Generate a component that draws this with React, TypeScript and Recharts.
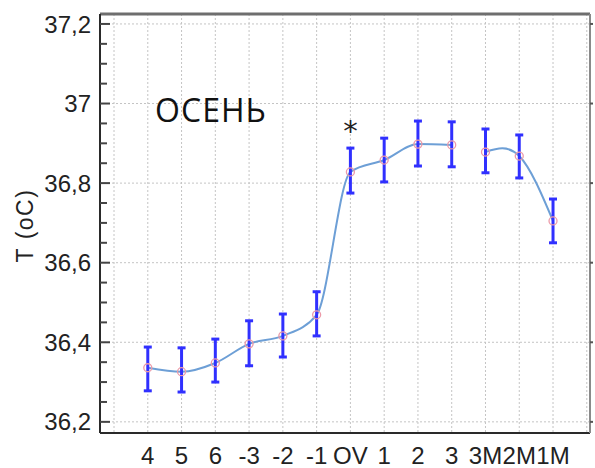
import { ComposedChart, Line, XAxis, YAxis, CartesianGrid, ErrorBar, ReferenceLine, ReferenceDot } from 'recharts';

// stages on the x axis, in the order of the figure
const stages = ['4', '5', '6', '-3', '-2', '-1', 'OV', '1', '2', '3', '3M', '2M', '1M'];
// mean body temperature and the ends of the error bars
const meanT = [36.336, 36.326, 36.348, 36.396, 36.416, 36.469, 36.828, 36.858, 36.898, 36.896, 36.878, 36.868, 36.705];
const upperT = [36.388, 36.386, 36.408, 36.454, 36.471, 36.527, 36.888, 36.913, 36.956, 36.954, 36.936, 36.921, 36.76];
const lowerT = [36.278, 36.275, 36.3, 36.341, 36.363, 36.416, 36.775, 36.803, 36.843, 36.841, 36.826, 36.813, 36.65];
// the fitted curve is broken between "3" and "3M"
const lastOfFirstCurve = 9;

const xTicks = [1, 2, 3, 4, 5, 6, 7, 8, 9, 10, 11, 12, 13];
const xGrid = [0, 1, 2, 3, 4, 5, 6, 7, 8, 9, 10, 11, 12, 13, 14];
const yMajor = [36.2, 36.4, 36.6, 36.8, 37, 37.2];
const yTicks = [
  36.2, 36.25, 36.3, 36.35, 36.4, 36.45, 36.5, 36.55, 36.6, 36.65, 36.7,
  36.75, 36.8, 36.85, 36.9, 36.95, 37, 37.05, 37.1, 37.15, 37.2,
];

const X_DOMAIN: [number, number] = [-0.415, 14.095];
const Y_DOMAIN: [number, number] = [36.172, 37.225];

const data = stages.map((s, i) => ({
  x: i + 1,
  t: meanT[i],
  err: [meanT[i] - lowerT[i], upperT[i] - meanT[i]],
  curveA: i <= lastOfFirstCurve ? meanT[i] : null,
  curveB: i > lastOfFirstCurve ? meanT[i] : null,
}));

const FONT = '"Liberation Sans", Arial, sans-serif';

const isMajor = (v: number) => yMajor.some((m) => Math.abs(m - v) < 1e-6);

const LeftTick = (props: any) => {
  const { x, y, payload } = props;
  const major = isMajor(payload.value);
  return (
    <g>
      <line x1={x} y1={y} x2={x + (major ? 10 : 7)} y2={y} stroke="#444" strokeWidth={2} />
      {major && (
        <text x={x - 9} y={y} dy="0.36em" textAnchor="end" fontSize={24} fontFamily={FONT} fill="#222">
          {String(payload.value).replace('.', ',')}
        </text>
      )}
    </g>
  );
};

const RightTick = (props: any) => {
  const { x, y } = props;
  return <line x1={x} y1={y} x2={x + 3} y2={y} stroke="#555" strokeWidth={2} />;
};

const BottomTick = (props: any) => {
  const { x, y, payload } = props;
  return (
    <text x={x} y={y + 31} textAnchor="middle" fontSize={24} fontFamily={FONT} fill="#222">
      {stages[payload.value - 1]}
    </text>
  );
};

const Marker = (props: any) => {
  const { cx, cy } = props;
  return <circle cx={cx} cy={cy} r={4} fill="none" stroke="#ec9aa8" strokeWidth={1.3} />;
};

const YTitle = (props: any) => {
  const { viewBox } = props;
  const cx = viewBox.x + 25;
  const cy = viewBox.y + viewBox.height / 2 + 2;
  return (
    <text x={cx} y={cy} dy="0.36em" textAnchor="middle" fontSize={23} letterSpacing={1.5} fontFamily={FONT} fill="#222" transform={`rotate(-90, ${cx}, ${cy})`}>
      T (oC)
    </text>
  );
};

export default function App() {
  return (
    <div style={{ position: 'absolute', left: 0, top: 0, background: '#fff' }}>
      <ComposedChart width={595} height={468} data={data} margin={{ top: 14, right: 0, bottom: 0, left: 0 }}>
        <CartesianGrid stroke="#c4c4c4" strokeDasharray="2 2" horizontalValues={yMajor} verticalValues={xGrid} />
        <XAxis
          type="number"
          dataKey="x"
          domain={X_DOMAIN}
          allowDataOverflow
          ticks={xTicks}
          interval={0}
          height={35}
          tickSize={0}
          tickMargin={0}
          tickLine={false}
          axisLine={{ stroke: '#2a2a2a', strokeWidth: 2 }}
          tick={<BottomTick />}
        />
        <YAxis
          type="number"
          domain={Y_DOMAIN}
          allowDataOverflow
          ticks={yTicks}
          interval={0}
          width={100}
          tickSize={0}
          tickMargin={0}
          tickLine={false}
          axisLine={{ stroke: '#2a2a2a', strokeWidth: 2 }}
          tick={<LeftTick />}
          label={<YTitle />}
        />
        <YAxis
          yAxisId="right"
          orientation="right"
          type="number"
          domain={Y_DOMAIN}
          allowDataOverflow
          ticks={yMajor}
          interval={0}
          width={5}
          tickSize={0}
          tickMargin={0}
          tickLine={false}
          axisLine={{ stroke: '#8a8a8a', strokeWidth: 2 }}
          tick={<RightTick />}
        />
        <ReferenceLine y={Y_DOMAIN[1]} stroke="#6e6e6e" strokeWidth={3} />
        <Line dataKey="curveA" type="monotone" stroke="#6d9fd6" strokeWidth={2} dot={false} isAnimationActive={false} />
        <Line dataKey="curveB" type="natural" stroke="#6d9fd6" strokeWidth={2} dot={false} isAnimationActive={false} />
        <Line dataKey="t" stroke="none" dot={<Marker />} activeDot={false} isAnimationActive={false} />
        <Line dataKey="t" stroke="none" dot={false} activeDot={false} isAnimationActive={false}>
          <ErrorBar dataKey="err" direction="y" width={4} stroke="#3030ff" strokeWidth={3} isAnimationActive={false} />
        </Line>
        <ReferenceDot
          x={2.87}
          y={36.983}
          r={0}
          stroke="none"
          label={{ value: 'ОСЕНЬ', position: 'center', fontSize: 32, letterSpacing: 1, fontFamily: '"Open Sans", sans-serif', fill: '#111' }}
        />
        <ReferenceDot
          x={7}
          y={36.932}
          r={0}
          stroke="none"
          label={{ value: '*', position: 'center', fontSize: 29, fontFamily: '"DejaVu Sans", sans-serif', fill: '#222' }}
        />
      </ComposedChart>
    </div>
  );
}
